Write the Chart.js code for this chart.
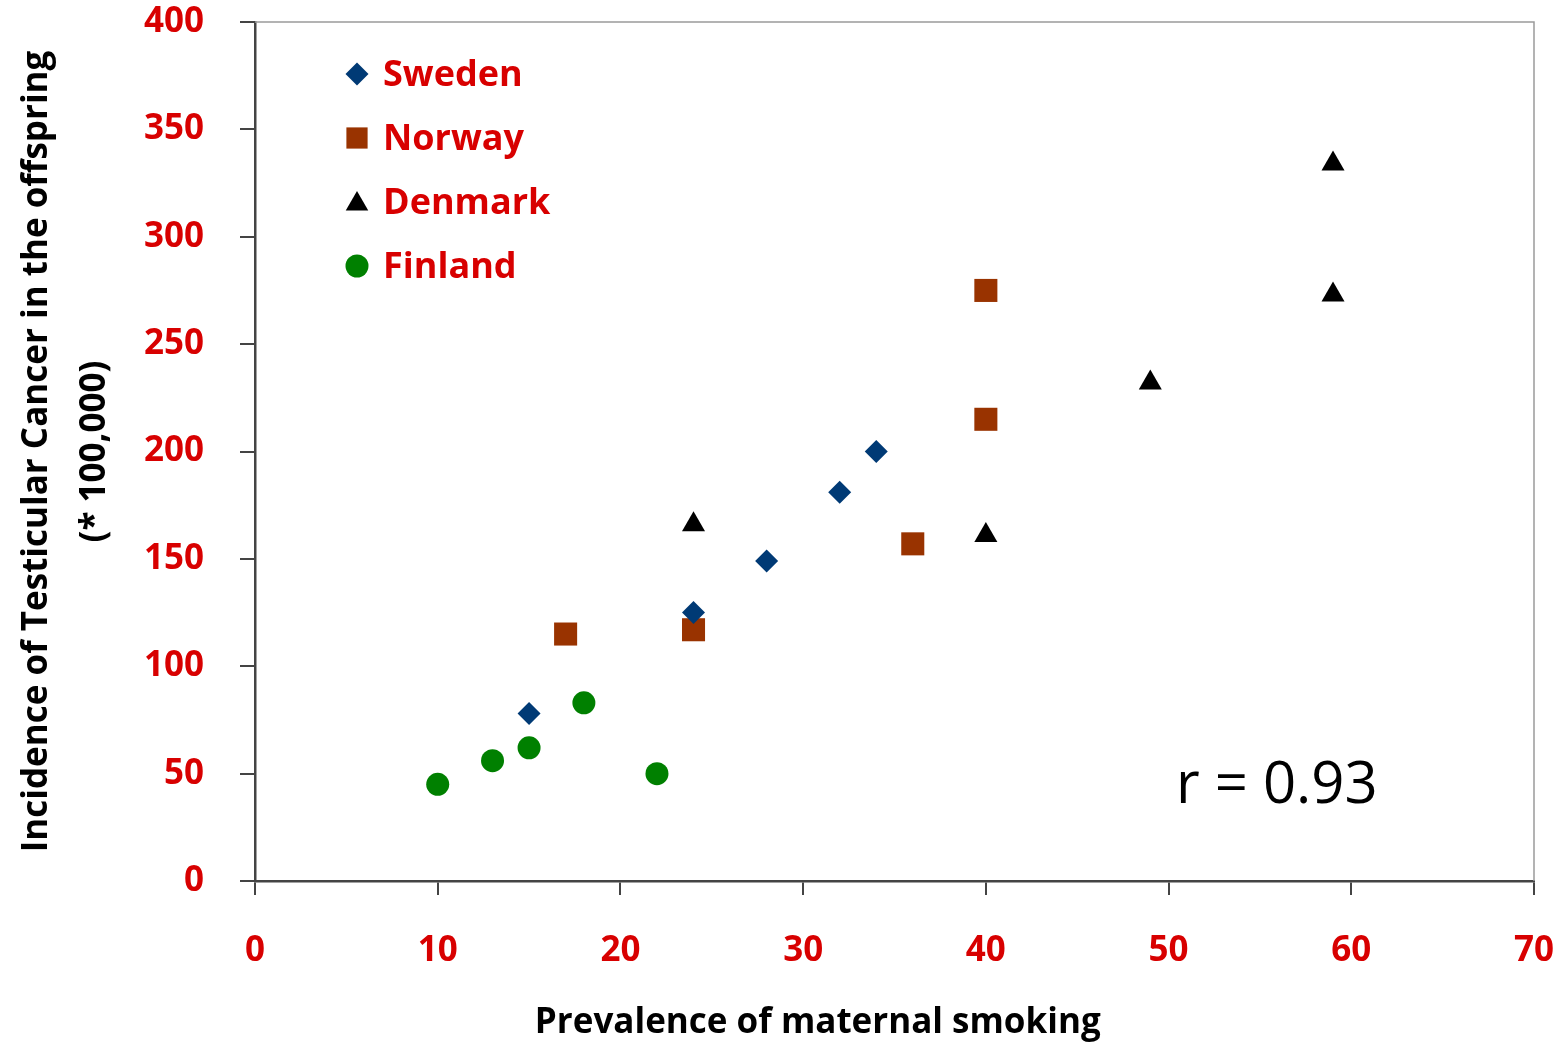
<!DOCTYPE html>
<html>
<head>
<meta charset="utf-8">
<script src="https://cdn.jsdelivr.net/npm/chart.js@4/dist/chart.umd.min.js"></script>
<style>
html,body{margin:0;padding:0;background:#fff;}
#c{display:block;}
</style>
</head>
<body>
<canvas id="c" width="1565" height="1044"></canvas>
<script>
const seriesNames = ['Sweden', 'Norway', 'Denmark', 'Finland'];
const swedenX = [15, 24, 28, 32, 34];
const swedenY = [78, 125, 149, 181, 200];
const norwayX = [17, 24, 36, 40, 40];
const norwayY = [115, 117, 157, 215, 275];
const denmarkX = [24, 40, 49, 59, 59];
const denmarkY = [166, 161, 232, 273, 334];
const finlandX = [10, 13, 15, 18, 22];
const finlandY = [45, 56, 62, 83, 50];
const xTicks = [0, 10, 20, 30, 40, 50, 60, 70];
const yTicks = [0, 50, 100, 150, 200, 250, 300, 350, 400];
const xTitle = 'Prevalence of maternal smoking';
const yTitle = ['Incidence of Testicular Cancer in the offspring', '(* 100,000)'];
const annotationText = 'r = 0.93';

const RED = '#d80000';
const FONT = '"Open Sans"';
const styles = [
  {color: '#003a75', shape: 'rectRot', r: 11.5},
  {color: '#993300', shape: 'rect', r: 16.3},
  {color: '#000000', shape: 'triangle', r: 13.3},
  {color: '#008000', shape: 'circle', r: 11.5}
];
const xs = [swedenX, norwayX, denmarkX, finlandX];
const ys = [swedenY, norwayY, denmarkY, finlandY];

const datasets = seriesNames.map((name, i) => ({
  label: name,
  data: xs[i].map((x, j) => ({x: x, y: ys[i][j]})),
  pointStyle: styles[i].shape,
  pointRadius: styles[i].r,
  pointHoverRadius: styles[i].r,
  backgroundColor: styles[i].color,
  borderColor: styles[i].color,
  borderWidth: 0,
  pointBorderWidth: 0
}));

function drawMarker(ctx, shape, r, x, y, color) {
  ctx.save();
  ctx.fillStyle = color;
  ctx.beginPath();
  if (shape === 'rectRot') {
    ctx.moveTo(x - r, y); ctx.lineTo(x, y - r); ctx.lineTo(x + r, y); ctx.lineTo(x, y + r);
  } else if (shape === 'rect') {
    const s = Math.SQRT1_2 * r; ctx.rect(x - s, y - s, 2 * s, 2 * s);
  } else if (shape === 'triangle') {
    ctx.moveTo(x, y - r);
    ctx.lineTo(x + r * Math.sin(2 * Math.PI / 3), y - r * Math.cos(2 * Math.PI / 3));
    ctx.lineTo(x + r * Math.sin(4 * Math.PI / 3), y - r * Math.cos(4 * Math.PI / 3));
  } else {
    ctx.arc(x, y, r, 0, Math.PI * 2);
  }
  ctx.closePath();
  ctx.fill();
  ctx.restore();
}

function zeroPad(s) { s.paddingTop = 0; s.paddingBottom = 0; s.paddingLeft = 0; s.paddingRight = 0; }

const extras = {
  id: 'extras',
  beforeDatasetsDraw(chart) {
    const {ctx, chartArea: a} = chart;
    ctx.save();
    ctx.strokeStyle = '#9a9a9a';
    ctx.lineWidth = 1.5;
    ctx.beginPath();
    ctx.moveTo(a.left, a.top); ctx.lineTo(a.right, a.top); ctx.lineTo(a.right, a.bottom);
    ctx.stroke();
    ctx.restore();
  },
  afterDatasetsDraw(chart) {
    const {ctx, chartArea: a, scales} = chart;
    ctx.save();
    const lx = a.left + 102, ly0 = a.top + 52, step = 64;
    seriesNames.forEach((n, i) => {
      const y = ly0 + i * step;
      const st = styles[i];
      const rr = st.shape === 'rect' ? 15 : (st.shape === 'triangle' ? 13 : 11.5);
      drawMarker(ctx, st.shape, rr, lx, st.shape === 'triangle' ? y + 2 : y, st.color);
      ctx.fillStyle = RED;
      ctx.font = 'bold 36px ' + FONT;
      ctx.textBaseline = 'middle';
      ctx.textAlign = 'left';
      ctx.fillText(n, lx + 26, y + 2);
    });
    ctx.fillStyle = '#000';
    ctx.font = '58px ' + FONT;
    ctx.textBaseline = 'middle';
    ctx.textAlign = 'left';
    ctx.fillText(annotationText, scales.x.getPixelForValue(50.4), scales.y.getPixelForValue(44.2));
    ctx.font = 'bold 35px ' + FONT;
    ctx.textAlign = 'center';
    ctx.fillStyle = '#000';
    ctx.fillText(xTitle, a.left + 0.44 * (a.right - a.left), a.bottom + 142);
    ctx.restore();
  }
};

new Chart(document.getElementById('c'), {
  type: 'scatter',
  data: {datasets},
  options: {
    responsive: false,
    devicePixelRatio: 1,
    animation: false,
    layout: {padding: {left: 0, top: 22, right: 31, bottom: 0}},
    plugins: {legend: {display: false}, tooltip: {enabled: false}},
    scales: {
      x: {
        type: 'linear', min: 0, max: 70,
        afterBuildTicks(s) { s.ticks = xTicks.map(v => ({value: v})); },
        afterFit(s) { s.height = 163; zeroPad(s); },
        grid: {drawOnChartArea: false, drawTicks: true, tickLength: 14, color: '#444', lineWidth: 2},
        border: {color: '#444', width: 2.5},
        ticks: {color: RED, font: {family: FONT, size: 35, weight: 'bold'}, padding: 35, maxRotation: 0}
      },
      y: {
        type: 'linear', min: 0, max: 400,
        afterBuildTicks(s) { s.ticks = yTicks.map(v => ({value: v})); },
        afterFit(s) { s.width = 255; zeroPad(s); },
        grid: {drawOnChartArea: false, drawTicks: true, tickLength: 15, color: '#444', lineWidth: 2},
        border: {color: '#444', width: 2.5},
        ticks: {color: RED, font: {family: FONT, size: 35, weight: 'bold'}, padding: 36},
        title: {display: true, text: yTitle, color: '#000', font: {family: FONT, size: 35, weight: 'bold', lineHeight: 1.66}, padding: {top: 8, bottom: 0}}
      }
    }
  },
  plugins: [extras]
});
</script>
</body>
</html>
